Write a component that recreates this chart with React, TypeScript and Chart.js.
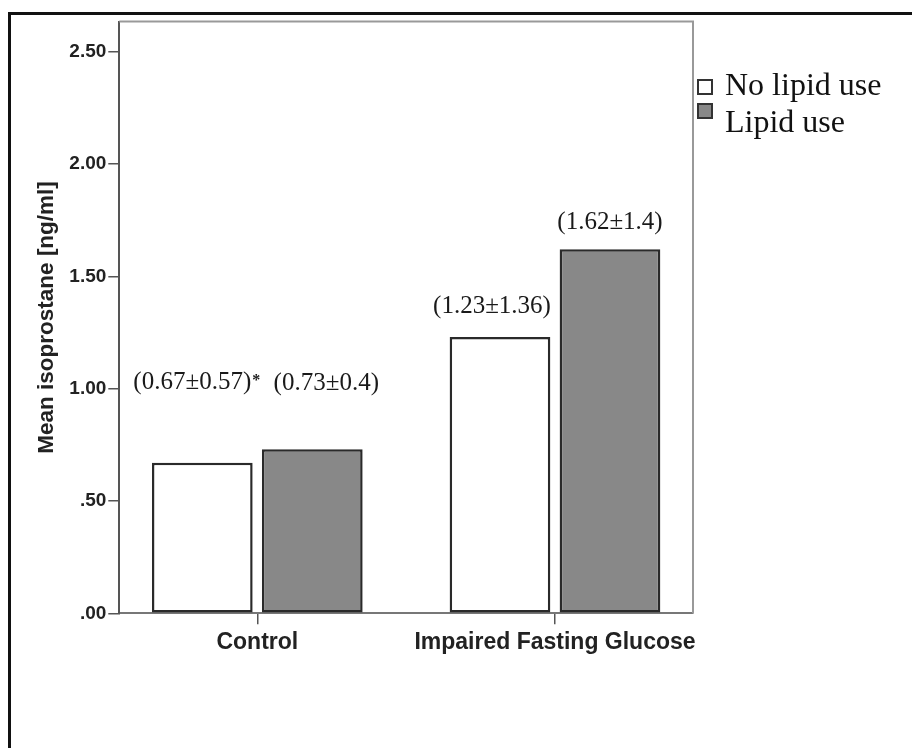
import React, { useEffect, useRef } from 'react';
import { Chart, registerables } from 'chart.js';

Chart.register(...registerables);

// ---- data ----
const categories = ['Control', 'Impaired Fasting Glucose'];
const seriesNames = ['No lipid use', 'Lipid use'];
const noLipidMeans = [0.67, 1.23];
const lipidMeans = [0.73, 1.62];
const noLipidSD = [0.57, 1.36];
const lipidSD = [0.4, 1.4];
const noLipidMarks = ['*', ''];
const lipidMarks = ['', ''];
const yTicks = [0, 0.5, 1, 1.5, 2, 2.5];

// ---- styling / placement ----
const seriesFill = ['#ffffff', '#888888'];
const labelOffsets = [
  [{ dx: -10, dy: -80 }, { dx: -8, dy: -31 }],
  [{ dx: 14, dy: -66 }, { dx: 0, dy: -27 }],
];
const means = [noLipidMeans, lipidMeans];
const sds = [noLipidSD, lipidSD];
const marks = [noLipidMarks, lipidMarks];

const serif = '"Liberation Serif", "Times New Roman", serif';
const sans = '"Liberation Sans", Arial, sans-serif';

const frameAndLabels = {
  id: 'frameAndLabels',
  beforeDatasetsDraw(chart: any) {
    const { ctx, chartArea } = chart;
    ctx.save();
    ctx.strokeStyle = '#999999';
    ctx.lineWidth = 2;
    ctx.beginPath();
    ctx.moveTo(chartArea.left, chartArea.top);
    ctx.lineTo(chartArea.right, chartArea.top);
    ctx.lineTo(chartArea.right, chartArea.bottom);
    ctx.stroke();
    ctx.restore();
  },
  afterDatasetsDraw(chart: any) {
    const { ctx } = chart;
    ctx.save();
    ctx.fillStyle = '#1a1a1a';
    for (let d = 0; d < chart.data.datasets.length; d++) {
      const meta = chart.getDatasetMeta(d);
      meta.data.forEach((bar: any, i: number) => {
        const off = labelOffsets[d][i];
        const text = '(' + String(means[d][i]) + '\u00b1' + String(sds[d][i]) + ')';
        ctx.font = '25px ' + serif;
        ctx.textAlign = 'center';
        ctx.textBaseline = 'middle';
        const cx = bar.x + off.dx;
        const cy = bar.y + off.dy;
        ctx.fillText(text, cx, cy);
        const mk = marks[d][i];
        if (mk) {
          const w = ctx.measureText(text).width;
          ctx.font = 'bold 16px ' + serif;
          ctx.textAlign = 'left';
          ctx.fillText(mk, cx + w / 2 + 1, cy - 2);
        }
      });
    }
    ctx.restore();
  },
  afterDraw(chart: any) {
    const { ctx, chartArea } = chart;
    ctx.save();
    const sqX = chartArea.right + 4;
    const sqTops = [79, 103];
    const textBase = [95, 132];
    chart.data.datasets.forEach((ds: any, i: number) => {
      ctx.fillStyle = ds.backgroundColor;
      ctx.fillRect(sqX, sqTops[i], 16, 16);
      ctx.strokeStyle = '#333333';
      ctx.lineWidth = 2;
      ctx.strokeRect(sqX + 1, sqTops[i] + 1, 14, 14);
      ctx.fillStyle = '#111111';
      ctx.font = '32px ' + serif;
      ctx.textAlign = 'left';
      ctx.textBaseline = 'alphabetic';
      ctx.fillText(ds.label, sqX + 28, textBase[i]);
    });
    ctx.restore();
  },
};

export default function App() {
  const canvasRef = useRef<HTMLCanvasElement | null>(null);

  useEffect(() => {
    if (!canvasRef.current) return;
    const chart = new Chart(canvasRef.current, {
      type: 'bar',
      data: {
        datasets: [
          {
            label: seriesNames[0],
            data: noLipidMeans.map((v, i) => ({ x: i, y: v })),
            backgroundColor: seriesFill[0],
            borderColor: '#2a2a2a',
            borderWidth: 2.5,
            borderSkipped: false,
          },
          {
            label: seriesNames[1],
            data: lipidMeans.map((v, i) => ({ x: i, y: v })),
            backgroundColor: seriesFill[1],
            borderColor: '#2a2a2a',
            borderWidth: 2.5,
            borderSkipped: false,
          },
        ],
      },
      options: {
        animation: false,
        responsive: true,
        maintainAspectRatio: false,
        events: [],
        categoryPercentage: 0.739,
        barPercentage: 0.9155,
        layout: { padding: { left: 0, top: 21.5, right: 219, bottom: 0 } },
        plugins: {
          legend: { display: false },
          tooltip: { enabled: false },
        },
        scales: {
          x: {
            type: 'linear',
            offset: false,
            min: -0.4636,
            max: 1.4636,
            afterBuildTicks: (s: any) => {
              s.ticks = categories.map((_, i) => ({ value: i }));
            },
            afterFit: (s: any) => {
              s.height = 134.7;
            },
            grid: { offset: false, drawOnChartArea: false, drawTicks: true, tickLength: 11, color: '#555555', lineWidth: 1.5 },
            border: { color: '#777777', width: 2 },
            ticks: {
              callback: (v: any) => categories[v] ?? '',
              font: { family: sans, size: 23, weight: 'bold' },
              color: '#222222',
              padding: 5,
              maxRotation: 0,
              autoSkip: false,
            },
          },
          y: {
            min: 0,
            max: 2.634,
            afterBuildTicks: (s: any) => {
              s.ticks = yTicks.map((v) => ({ value: v }));
            },
            afterFit: (s: any) => {
              s.width = 119.3;
            },
            grid: { drawOnChartArea: false, drawTicks: true, tickLength: 11, color: '#555555', lineWidth: 1.5 },
            border: { color: '#555555', width: 2 },
            ticks: {
              callback: (v: any) => Number(v).toFixed(2).replace(/^0/, ''),
              font: { family: sans, size: 19, weight: 'bold' },
              color: '#222222',
              padding: 2,
            },
            title: {
              display: true,
              text: 'Mean isoprostane [ng/ml]',
              font: { family: sans, size: 22.5, weight: 'bold' },
              color: '#222222',
              padding: { top: 33.5, bottom: 0 },
            },
          },
        },
      },
      plugins: [frameAndLabels],
    } as any);
    return () => chart.destroy();
  }, []);

  return (
    <div style={{ position: 'fixed', left: 0, top: 0, width: 912, height: 748, background: '#ffffff', overflow: 'hidden' }}>
      <div
        style={{
          position: 'absolute',
          left: 8,
          top: 12,
          width: 920,
          height: 760,
          borderLeft: '3px solid #111111',
          borderTop: '3px solid #111111',
        }}
      />
      <canvas ref={canvasRef} style={{ position: 'absolute', left: 0, top: 0, width: 912, height: 748 }} />
    </div>
  );
}
